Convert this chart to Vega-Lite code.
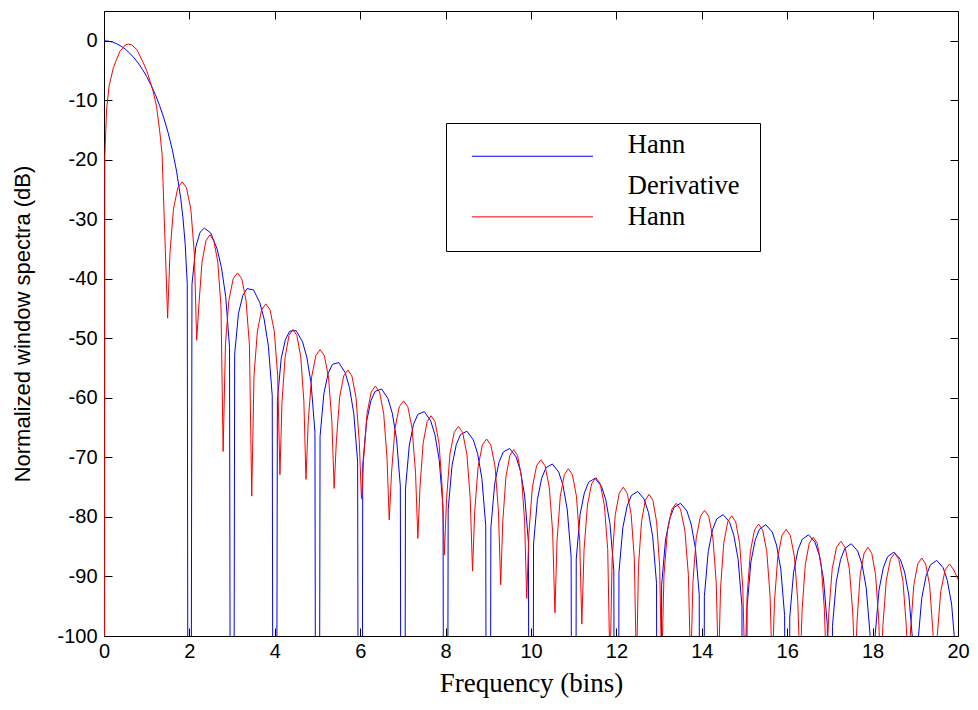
{
  "$schema": "https://vega.github.io/schema/vega-lite/v6.json",
  "width": 854,
  "height": 625,
  "autosize": {"type": "none"},
  "padding": {"left": 104, "top": 11, "right": 20, "bottom": 74},
  "background": "white",
  "config": {
    "view": {"stroke": null},
    "axis": {"grid": false, "domainColor": "black", "tickColor": "black", "labelColor": "black", "titleColor": "black", "tickSize": -8, "labelFont": "Liberation Sans", "labelFontSize": 20, "domainWidth": 1, "tickWidth": 1, "titleFontWeight": "normal", "labelFlush": false, "labelExpr": "'' + datum.value"}
  },
  "datasets": {
    "hann": [
      {"f":0,"v":0},{"f":0.1,"v":-0.06},{"f":0.2,"v":-0.22},{"f":0.3,"v":-0.51},{"f":0.4,"v":-0.91},{"f":0.5,"v":-1.42},{"f":0.6,"v":-2.07},{"f":0.7,"v":-2.84},{"f":0.8,"v":-3.75},{"f":0.9,"v":-4.8},{"f":1.0,"v":-6.02},{"f":1.1,"v":-7.42},{"f":1.2,"v":-9.01},{"f":1.3,"v":-10.84},{"f":1.4,"v":-12.95},{"f":1.5,"v":-15.4},{"f":1.6,"v":-18.32},{"f":1.7,"v":-21.92},{"f":1.8,"v":-26.67},{"f":1.85,"v":-29.83},{"f":1.9,"v":-34.05},{"f":1.95,"v":-40.81},{"f":2.0,"v":-300},
      {"f":2.06,"v":-40.98},{"f":2.15,"v":-34.63},{"f":2.25,"v":-32.17},{"f":2.35,"v":-31.47},{"f":2.5,"v":-32.3},{"f":2.65,"v":-35.0},{"f":2.75,"v":-38.08},{"f":2.85,"v":-42.95},{"f":2.94,"v":-51.51},{"f":3.0,"v":-300},
      {"f":3.06,"v":-52.65},{"f":3.15,"v":-45.78},{"f":3.25,"v":-42.81},{"f":3.35,"v":-41.64},{"f":3.5,"v":-41.85},{"f":3.65,"v":-44.01},{"f":3.75,"v":-46.76},{"f":3.85,"v":-51.33},{"f":3.94,"v":-59.64},{"f":4.0,"v":-300},
      {"f":4.06,"v":-60.45},{"f":4.15,"v":-53.37},{"f":4.25,"v":-50.17},{"f":4.35,"v":-48.78},{"f":4.5,"v":-48.7},{"f":4.65,"v":-50.58},{"f":4.75,"v":-53.16},{"f":4.85,"v":-57.57},{"f":4.94,"v":-65.75},{"f":5.0,"v":-300},
      {"f":5.06,"v":-66.48},{"f":5.15,"v":-59.24},{"f":5.25,"v":-55.87},{"f":5.35,"v":-54.35},{"f":5.5,"v":-54.07},{"f":5.65,"v":-55.79},{"f":5.75,"v":-58.29},{"f":5.85,"v":-62.62},{"f":5.94,"v":-70.74},{"f":6.0,"v":-300},
      {"f":6.06,"v":-71.25},{"f":6.15,"v":-63.94},{"f":6.25,"v":-60.49},{"f":6.35,"v":-58.89},{"f":6.5,"v":-58.5},{"f":6.65,"v":-60.11},{"f":6.75,"v":-62.53},{"f":6.85,"v":-66.78},{"f":6.94,"v":-74.83},{"f":7.0,"v":-300},
      {"f":7.06,"v":-75.29},{"f":7.15,"v":-67.93},{"f":7.25,"v":-64.43},{"f":7.35,"v":-62.77},{"f":7.5,"v":-62.3},{"f":7.65,"v":-63.83},{"f":7.75,"v":-66.19},{"f":7.85,"v":-70.39},{"f":7.94,"v":-78.39},{"f":8.0,"v":-300},
      {"f":8.06,"v":-78.79},{"f":8.15,"v":-71.39},{"f":8.25,"v":-67.84},{"f":8.35,"v":-66.14},{"f":8.5,"v":-65.6},{"f":8.65,"v":-67.06},{"f":8.75,"v":-69.38},{"f":8.85,"v":-73.53},{"f":8.94,"v":-81.49},{"f":9.0,"v":-300},
      {"f":9.06,"v":-81.83},{"f":9.15,"v":-74.4},{"f":9.25,"v":-70.82},{"f":9.35,"v":-69.09},{"f":9.5,"v":-68.5},{"f":9.65,"v":-69.91},{"f":9.75,"v":-72.2},{"f":9.85,"v":-76.32},{"f":9.94,"v":-84.25},{"f":10.0,"v":-300},
      {"f":10.06,"v":-84.55},{"f":10.15,"v":-77.09},{"f":10.25,"v":-73.49},{"f":10.35,"v":-71.73},{"f":10.5,"v":-71.1},{"f":10.65,"v":-72.47},{"f":10.75,"v":-74.73},{"f":10.85,"v":-78.83},{"f":10.94,"v":-86.73},{"f":11.0,"v":-300},
      {"f":11.06,"v":-87.04},{"f":11.15,"v":-79.57},{"f":11.25,"v":-75.94},{"f":11.35,"v":-74.16},{"f":11.5,"v":-73.5},{"f":11.65,"v":-74.84},{"f":11.75,"v":-77.08},{"f":11.85,"v":-81.15},{"f":11.94,"v":-89.04},{"f":12.0,"v":-300},
      {"f":12.06,"v":-89.32},{"f":12.15,"v":-81.83},{"f":12.25,"v":-78.19},{"f":12.35,"v":-76.39},{"f":12.5,"v":-75.7},{"f":12.65,"v":-77.01},{"f":12.75,"v":-79.23},{"f":12.85,"v":-83.29},{"f":12.94,"v":-91.16},{"f":13.0,"v":-300},
      {"f":13.06,"v":-91.39},{"f":13.15,"v":-83.88},{"f":13.25,"v":-80.23},{"f":13.35,"v":-78.41},{"f":13.5,"v":-77.7},{"f":13.65,"v":-78.99},{"f":13.75,"v":-81.19},{"f":13.85,"v":-85.24},{"f":13.94,"v":-93.09},{"f":14.0,"v":-300},
      {"f":14.06,"v":-93.35},{"f":14.15,"v":-85.83},{"f":14.25,"v":-82.16},{"f":14.35,"v":-80.33},{"f":14.5,"v":-79.6},{"f":14.65,"v":-80.87},{"f":14.75,"v":-83.06},{"f":14.85,"v":-87.09},{"f":14.94,"v":-94.93},{"f":15.0,"v":-300},
      {"f":15.06,"v":-95.1},{"f":15.15,"v":-87.57},{"f":15.25,"v":-83.89},{"f":15.35,"v":-82.05},{"f":15.5,"v":-81.3},{"f":15.65,"v":-82.55},{"f":15.75,"v":-84.73},{"f":15.85,"v":-88.75},{"f":15.94,"v":-96.58},{"f":16.0,"v":-300},
      {"f":16.06,"v":-96.84},{"f":16.15,"v":-89.31},{"f":16.25,"v":-85.61},{"f":16.35,"v":-83.76},{"f":16.5,"v":-83.0},{"f":16.65,"v":-84.24},{"f":16.75,"v":-86.41},{"f":16.85,"v":-90.41},{"f":16.94,"v":-98.24},{"f":17.0,"v":-300},
      {"f":17.06,"v":-98.38},{"f":17.15,"v":-90.84},{"f":17.25,"v":-87.14},{"f":17.35,"v":-85.28},{"f":17.5,"v":-84.5},{"f":17.65,"v":-85.72},{"f":17.75,"v":-87.88},{"f":17.85,"v":-91.88},{"f":17.94,"v":-99.7},{"f":18.0,"v":-300},
      {"f":18.06,"v":-99.82},{"f":18.15,"v":-92.27},{"f":18.25,"v":-88.56},{"f":18.35,"v":-86.69},{"f":18.5,"v":-85.9},{"f":18.65,"v":-87.11},{"f":18.75,"v":-89.26},{"f":18.85,"v":-93.25},{"f":18.94,"v":-101.06},{"f":19.0,"v":-300},
      {"f":19.06,"v":-101.25},{"f":19.15,"v":-93.69},{"f":19.25,"v":-89.97},{"f":19.35,"v":-88.1},{"f":19.5,"v":-87.3},{"f":19.65,"v":-88.5},{"f":19.75,"v":-90.65},{"f":19.85,"v":-94.63},{"f":19.94,"v":-102.43},{"f":20.0,"v":-300}
    ],
    "dhann": [
      {"f":0,"v":-300},{"f":0.02,"v":-19.4},{"f":0.06,"v":-11.6},{"f":0.12,"v":-7.6},{"f":0.22,"v":-4.5},{"f":0.37,"v":-1.8},{"f":0.5,"v":-0.7},{"f":0.57,"v":-0.55},{"f":0.65,"v":-0.7},{"f":0.77,"v":-1.5},{"f":0.92,"v":-3.7},{"f":1.0,"v":-5.0},{"f":1.08,"v":-6.8},{"f":1.15,"v":-8.5},{"f":1.23,"v":-11.0},{"f":1.31,"v":-15.5},{"f":1.36,"v":-19.0},{"f":1.49,"v":-46.6},
      {"f":1.544,"v":-35.79},{"f":1.626,"v":-28.31},{"f":1.728,"v":-24.7},{"f":1.83,"v":-23.7},{"f":1.932,"v":-24.7},{"f":2.034,"v":-28.31},{"f":2.116,"v":-35.79},{"f":2.17,"v":-50.3},
      {"f":2.22,"v":-44.69},{"f":2.294,"v":-37.21},{"f":2.387,"v":-33.6},{"f":2.48,"v":-32.6},{"f":2.573,"v":-33.6},{"f":2.666,"v":-37.21},{"f":2.74,"v":-44.69},{"f":2.79,"v":-69.0},
      {"f":2.844,"v":-51.09},{"f":2.924,"v":-43.61},{"f":3.025,"v":-40.0},{"f":3.125,"v":-39.0},{"f":3.226,"v":-40.0},{"f":3.326,"v":-43.61},{"f":3.406,"v":-51.09},{"f":3.46,"v":-76.5},
      {"f":3.513,"v":-56.29},{"f":3.592,"v":-48.81},{"f":3.691,"v":-45.2},{"f":3.79,"v":-44.2},{"f":3.889,"v":-45.2},{"f":3.988,"v":-48.81},{"f":4.067,"v":-56.29},{"f":4.12,"v":-72.9},
      {"f":4.169,"v":-60.59},{"f":4.242,"v":-53.11},{"f":4.334,"v":-49.5},{"f":4.425,"v":-48.5},{"f":4.517,"v":-49.5},{"f":4.608,"v":-53.11},{"f":4.681,"v":-60.59},{"f":4.73,"v":-73.7},
      {"f":4.783,"v":-63.99},{"f":4.862,"v":-56.51},{"f":4.961,"v":-52.9},{"f":5.06,"v":-51.9},{"f":5.159,"v":-52.9},{"f":5.258,"v":-56.51},{"f":5.337,"v":-63.99},{"f":5.39,"v":-75.2},
      {"f":5.441,"v":-67.39},{"f":5.518,"v":-59.91},{"f":5.614,"v":-56.3},{"f":5.71,"v":-55.3},{"f":5.806,"v":-56.3},{"f":5.902,"v":-59.91},{"f":5.979,"v":-67.39},{"f":6.03,"v":-77.0},
      {"f":6.082,"v":-70.09},{"f":6.16,"v":-62.61},{"f":6.258,"v":-59.0},{"f":6.355,"v":-58.0},{"f":6.453,"v":-59.0},{"f":6.55,"v":-62.61},{"f":6.628,"v":-70.09},{"f":6.68,"v":-80.5},
      {"f":6.734,"v":-72.59},{"f":6.814,"v":-65.11},{"f":6.915,"v":-61.5},{"f":7.015,"v":-60.5},{"f":7.116,"v":-61.5},{"f":7.216,"v":-65.11},{"f":7.296,"v":-72.59},{"f":7.35,"v":-83.6},
      {"f":7.4,"v":-75.09},{"f":7.474,"v":-67.61},{"f":7.567,"v":-64.0},{"f":7.66,"v":-63.0},{"f":7.753,"v":-64.0},{"f":7.846,"v":-67.61},{"f":7.92,"v":-75.09},{"f":7.97,"v":-86.4},
      {"f":8.023,"v":-76.89},{"f":8.102,"v":-69.41},{"f":8.201,"v":-65.8},{"f":8.3,"v":-64.8},{"f":8.399,"v":-65.8},{"f":8.498,"v":-69.41},{"f":8.577,"v":-76.89},{"f":8.63,"v":-89.1},
      {"f":8.683,"v":-78.99},{"f":8.762,"v":-71.51},{"f":8.861,"v":-67.9},{"f":8.96,"v":-66.9},{"f":9.059,"v":-67.9},{"f":9.158,"v":-71.51},{"f":9.237,"v":-78.99},{"f":9.29,"v":-91.4},
      {"f":9.339,"v":-80.79},{"f":9.412,"v":-73.31},{"f":9.504,"v":-69.7},{"f":9.595,"v":-68.7},{"f":9.687,"v":-69.7},{"f":9.778,"v":-73.31},{"f":9.851,"v":-80.79},{"f":9.9,"v":-93.7},
      {"f":9.953,"v":-82.49},{"f":10.032,"v":-75.01},{"f":10.131,"v":-71.4},{"f":10.23,"v":-70.4},{"f":10.329,"v":-71.4},{"f":10.428,"v":-75.01},{"f":10.507,"v":-82.49},{"f":10.56,"v":-96.1},
      {"f":10.61,"v":-83.99},{"f":10.686,"v":-76.51},{"f":10.781,"v":-72.9},{"f":10.875,"v":-71.9},{"f":10.97,"v":-72.9},{"f":11.064,"v":-76.51},{"f":11.14,"v":-83.99},{"f":11.19,"v":-98.0},
      {"f":11.243,"v":-85.49},{"f":11.322,"v":-78.01},{"f":11.421,"v":-74.4},{"f":11.52,"v":-73.4},{"f":11.619,"v":-74.4},{"f":11.718,"v":-78.01},{"f":11.797,"v":-85.49},{"f":11.85,"v":-106},
      {"f":11.9,"v":-87.09},{"f":11.974,"v":-79.61},{"f":12.067,"v":-76.0},{"f":12.16,"v":-75.0},{"f":12.253,"v":-76.0},{"f":12.346,"v":-79.61},{"f":12.42,"v":-87.09},{"f":12.47,"v":-106},
      {"f":12.517,"v":-88.29},{"f":12.588,"v":-80.81},{"f":12.677,"v":-77.2},{"f":12.765,"v":-76.2},{"f":12.854,"v":-77.2},{"f":12.942,"v":-80.81},{"f":13.013,"v":-88.29},{"f":13.06,"v":-106},
      {"f":13.114,"v":-89.79},{"f":13.196,"v":-82.31},{"f":13.298,"v":-78.7},{"f":13.4,"v":-77.7},{"f":13.502,"v":-78.7},{"f":13.604,"v":-82.31},{"f":13.686,"v":-89.79},{"f":13.74,"v":-106},
      {"f":13.792,"v":-90.99},{"f":13.87,"v":-83.51},{"f":13.968,"v":-79.9},{"f":14.065,"v":-78.9},{"f":14.163,"v":-79.9},{"f":14.26,"v":-83.51},{"f":14.338,"v":-90.99},{"f":14.39,"v":-106},
      {"f":14.44,"v":-91.89},{"f":14.514,"v":-84.41},{"f":14.607,"v":-80.8},{"f":14.7,"v":-79.8},{"f":14.793,"v":-80.8},{"f":14.886,"v":-84.41},{"f":14.96,"v":-91.89},{"f":15.01,"v":-106},
      {"f":15.061,"v":-93.29},{"f":15.138,"v":-85.81},{"f":15.234,"v":-82.2},{"f":15.33,"v":-81.2},{"f":15.426,"v":-82.2},{"f":15.522,"v":-85.81},{"f":15.599,"v":-93.29},{"f":15.65,"v":-106},
      {"f":15.702,"v":-94.19},{"f":15.78,"v":-86.71},{"f":15.878,"v":-83.1},{"f":15.975,"v":-82.1},{"f":16.073,"v":-83.1},{"f":16.17,"v":-86.71},{"f":16.248,"v":-94.19},{"f":16.3,"v":-106},
      {"f":16.35,"v":-95.49},{"f":16.424,"v":-88.01},{"f":16.517,"v":-84.4},{"f":16.61,"v":-83.4},{"f":16.703,"v":-84.4},{"f":16.796,"v":-88.01},{"f":16.87,"v":-95.49},{"f":16.92,"v":-106},
      {"f":16.974,"v":-96.19},{"f":17.054,"v":-88.71},{"f":17.155,"v":-85.1},{"f":17.255,"v":-84.1},{"f":17.356,"v":-85.1},{"f":17.456,"v":-88.71},{"f":17.536,"v":-96.19},{"f":17.59,"v":-106},
      {"f":17.638,"v":-97.19},{"f":17.71,"v":-89.71},{"f":17.8,"v":-86.1},{"f":17.89,"v":-85.1},{"f":17.98,"v":-86.1},{"f":18.07,"v":-89.71},{"f":18.142,"v":-97.19},{"f":18.19,"v":-106},
      {"f":18.242,"v":-98.19},{"f":18.32,"v":-90.71},{"f":18.418,"v":-87.1},{"f":18.515,"v":-86.1},{"f":18.613,"v":-87.1},{"f":18.71,"v":-90.71},{"f":18.788,"v":-98.19},{"f":18.84,"v":-106},
      {"f":18.89,"v":-98.99},{"f":18.964,"v":-91.51},{"f":19.057,"v":-87.9},{"f":19.15,"v":-86.9},{"f":19.243,"v":-87.9},{"f":19.336,"v":-91.51},{"f":19.41,"v":-98.99},{"f":19.46,"v":-106},
      {"f":19.514,"v":-99.99},{"f":19.596,"v":-92.51},{"f":19.698,"v":-88.9},{"f":19.8,"v":-87.9},{"f":19.902,"v":-88.9},{"f":20.0,"v":-90.5}
    ]
  },
  "layer": [
    {
      "data": {"name": "hann"},
      "mark": {"type": "line", "clip": true, "strokeWidth": 1},
      "encoding": {
        "x": {"field": "f", "type": "quantitative", "scale": {"domain": [0, 20], "nice": false},
              "axis": {"orient": "bottom", "values": [0,2,4,6,8,10,12,14,16,18,20], "title": "Frequency (bins)", "titleFont": "Liberation Serif", "titleFontSize": 27, "labelPadding": 13, "titlePadding": 9}},
        "y": {"field": "v", "type": "quantitative", "scale": {"domain": [-100, 5], "nice": false, "zero": false},
              "axis": {"orient": "left", "values": [0,-10,-20,-30,-40,-50,-60,-70,-80,-90,-100], "title": "Normalized window spectra (dB)", "titleFont": "Liberation Sans", "titleFontSize": 22, "labelPadding": 15, "titlePadding": 22}},
        "color": {"datum": "Hann", "type": "nominal",
                  "scale": {"domain": ["Hann", "Derivative Hann"], "range": ["#0000ff", "#ff0000"]},
                  "legend": {"orient": "none", "legendX": 342, "legendY": 112, "title": null, "symbolType": "M-5,0H5", "symbolSize": 585.64, "symbolStrokeWidth": 1, "symbolOffset": 53.25, "labelFont": "Liberation Serif", "labelFontSize": 26.5, "labelColor": "black", "labelOffset": 82, "labelLimit": 0, "labelBaseline": "alphabetic", "padding": 20, "strokeColor": "black", "fillColor": "white", "rowPadding": 12.6,
                             "labelExpr": "datum.label == 'Derivative Hann' ? ['Derivative', 'Hann'] : datum.label",
                             "encode": {"labels": {"update": {"lineHeight": {"value": 31}, "dy": {"signal": "datum.value == 'Derivative Hann' ? -23.3 : -3.4"}}}}}}
      }
    },
    {
      "data": {"name": "dhann"},
      "mark": {"type": "line", "clip": true, "strokeWidth": 1},
      "encoding": {
        "x": {"field": "f", "type": "quantitative", "scale": {"domain": [0, 20], "nice": false},
              "axis": {"orient": "top", "values": [0,2,4,6,8,10,12,14,16,18,20], "labels": false, "title": null}},
        "y": {"field": "v", "type": "quantitative", "scale": {"domain": [-100, 5], "nice": false, "zero": false},
              "axis": {"orient": "right", "values": [0,-10,-20,-30,-40,-50,-60,-70,-80,-90,-100], "labels": false, "title": null}},
        "color": {"datum": "Derivative Hann", "type": "nominal",
                  "scale": {"domain": ["Hann", "Derivative Hann"], "range": ["#0000ff", "#ff0000"]}}
      }
    }
  ],
  "resolve": {"axis": {"x": "independent", "y": "independent"}}
}
